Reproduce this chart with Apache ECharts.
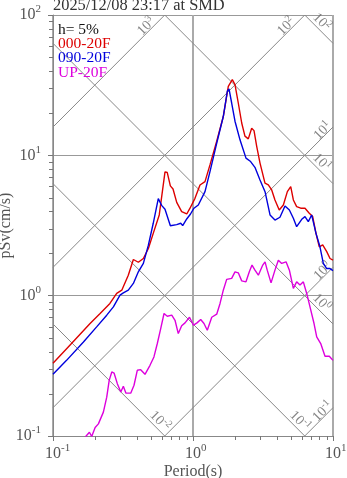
<!DOCTYPE html>
<html><head><meta charset="utf-8">
<script src="https://cdn.jsdelivr.net/npm/echarts@6/dist/echarts.min.js"></script>
<style>html,body{margin:0;padding:0;background:#fff}#c{width:347px;height:478px}</style>
</head><body><div id="c"></div>
<script>
// ---------- DATA ----------
const titleText = '2025/12/08 23:17 at SMD';
const dampingText = 'h= 5%';
const seriesNames = ['000-20F', '090-20F', 'UP-20F'];
const xAxisName = 'Period(s)';
const yAxisName = 'pSv(cm/s)';

const periods000 = [0.1,0.132,0.184,0.217,0.255,0.285,0.310,0.345,0.375,0.407,0.442,0.480,0.520,0.574,0.631,0.655,0.689,0.720,0.765,0.830,0.902,0.952,1.033,1.122,1.218,1.322,1.477,1.646,1.787,1.909,1.995,2.106,2.228,2.350,2.483,2.625,2.728,2.851,3.011,3.267,3.451,3.649,3.85,4.13,4.42,4.72,4.99,5.21,5.50,5.88,6.31,6.77,7.16,7.56,7.98,8.44,9.02,9.52,10];
const psv000 = [0.330,0.443,0.633,0.746,0.880,1.037,1.094,1.40,1.81,1.73,1.84,2.17,2.78,3.76,7.62,7.54,6.06,5.76,4.62,3.97,3.82,4.20,4.94,6.15,6.50,8.55,12.6,18.9,31.0,34.6,31.9,23.6,17.0,13.7,13.1,15.6,15.0,11.6,8.80,6.33,6.15,5.67,4.81,4.08,4.43,5.51,5.98,4.81,4.31,4.20,4.20,3.87,3.66,2.78,2.23,2.30,2.06,1.84,1.79];

const periods090 = [0.1,0.125,0.165,0.205,0.242,0.270,0.301,0.318,0.345,0.375,0.407,0.442,0.480,0.520,0.565,0.597,0.631,0.689,0.765,0.817,0.844,0.902,0.960,1.016,1.091,1.218,1.322,1.459,1.646,1.758,1.808,1.889,1.995,2.166,2.39,2.58,2.77,3.01,3.27,3.55,3.85,4.18,4.54,4.88,5.21,5.50,5.98,6.31,6.66,7.04,7.56,8.07,8.53,9.02,9.52,10];
const psv090 = [0.275,0.346,0.468,0.599,0.726,0.832,1.008,1.047,1.094,1.222,1.479,1.698,2.29,3.28,4.91,4.40,4.13,3.15,3.21,3.28,3.16,3.52,3.82,4.20,4.43,5.51,7.66,11.6,18.9,28.6,29.7,23.6,17.5,12.9,9.55,9.03,8.21,6.68,5.51,3.76,3.46,3.62,4.36,4.08,3.56,3.10,3.50,3.66,3.37,3.76,2.78,2.23,1.70,1.56,1.56,1.51];

const periodsUP = [0.170,0.182,0.189,0.200,0.211,0.229,0.242,0.252,0.263,0.273,0.288,0.305,0.318,0.332,0.359,0.379,0.400,0.423,0.454,0.493,0.526,0.556,0.588,0.621,0.655,0.705,0.744,0.785,0.830,0.877,0.944,1.008,1.068,1.135,1.198,1.265,1.361,1.477,1.560,1.646,1.740,1.889,1.995,2.106,2.228,2.39,2.525,2.64,2.77,2.93,3.15,3.27,3.39,3.61,3.85,4.07,4.30,4.62,4.88,5.21,5.50,5.81,6.14,6.49,6.85,7.32,7.65,8.17,8.77,9.41,10];
const psvUP = [0.0984,0.1064,0.0992,0.115,0.122,0.148,0.189,0.249,0.286,0.281,0.236,0.206,0.226,0.202,0.202,0.230,0.294,0.297,0.275,0.319,0.366,0.456,0.583,0.746,0.714,0.726,0.668,0.537,0.611,0.640,0.702,0.616,0.640,0.676,0.633,0.567,0.702,0.738,0.880,1.094,1.306,1.327,1.479,1.455,1.275,1.255,1.479,1.652,1.52,1.40,1.652,1.743,1.52,1.234,1.52,1.79,1.698,1.743,1.52,1.126,1.255,1.189,1.255,1.037,0.832,0.633,0.508,0.456,0.370,0.370,0.346];

const xRange = [0.1, 10];
const yRange = [0.1, 100];
const xMinorTicks = [0.2,0.3,0.4,0.5,0.6,0.7,0.8,0.9,2,3,4,5,6,7,8,9];
const yMinorTicks = [0.2,0.3,0.4,0.5,0.6,0.7,0.8,0.9,2,3,4,5,6,7,8,9,20,30,40,50,60,70,80,90];
// tripartite grid: constant displacement Sd (cm) and constant acceleration Sa (cm/s^2)
const sdLines = [0.01, 0.1, 1, 10, 100];
const saLines = [0.1, 1, 10, 100, 1000];

// ---------- STYLE ----------
const SERIF = '"Liberation Serif", "DejaVu Serif", serif';
const colors = ['#dd0000', '#0000dd', '#dd00dd'];
const TWO_PI = 2 * Math.PI;
const PXD = 140 * Math.SQRT2; // pixels per decade along a 45-degree diagonal

const expOf = v => Math.round(Math.log10(v));
const zip = (a, b) => a.map((v, i) => [v, b[i]]);

const Lmin = Math.log10(xRange[0]), Lmax = Math.log10(xRange[1]);
const Vmin = Math.log10(yRange[0]), Vmax = Math.log10(yRange[1]);

const diagSeries = [];
const sdLabelData = [];
const saLabelData = [];
sdLines.forEach(sd => {
  const c = Math.log10(TWO_PI * sd);           // log Sv = c - log T
  const x0 = Math.max(Lmin, c - Vmax);
  const rightEnd = (c - Vmin) >= Lmax;
  const x1 = rightEnd ? Lmax : c - Vmin;
  diagSeries.push([[10 ** x0, 10 ** (c - x0)], [10 ** x1, 10 ** (c - x1)]]);
  const a = (rightEnd ? 23 : 14) / PXD, n = 7 / PXD;
  const X = x1 - a + n, Y = (c - x1) + a + n;
  sdLabelData.push([10 ** X, 10 ** Y, expOf(sd)]);
});
saLines.forEach(sa => {
  const k = Math.log10(sa / TWO_PI);            // log Sv = log T + k
  const x0 = Math.max(Lmin, Vmin - k);
  const rightEnd = (Vmax - k) >= Lmax;
  const x1 = rightEnd ? Lmax : Vmax - k;
  diagSeries.push([[10 ** x0, 10 ** (x0 + k)], [10 ** x1, 10 ** (x1 + k)]]);
  const a = (rightEnd ? 10 : 21) / PXD, n = (rightEnd ? 4.5 : 5) / PXD;
  const X = x1 - a - n, Y = (x1 + k) - a + n;
  saLabelData.push([10 ** X, 10 ** Y, expOf(sa)]);
});

const diagRich = {
  b: {fontFamily: SERIF, fontSize: 14, lineHeight: 18, color: '#666'},
  s: {fontFamily: SERIF, fontSize: 10, lineHeight: 9, color: '#666', verticalAlign: 'top'}
};
const tickRich = {
  b: {fontFamily: SERIF, fontSize: 16, lineHeight: 22, color: '#555'},
  s: {fontFamily: SERIF, fontSize: 11, lineHeight: 10, color: '#555', verticalAlign: 'top'},
  p: {fontFamily: SERIF, fontSize: 11, lineHeight: 10, color: 'rgba(0,0,0,0)', verticalAlign: 'top'}
};

const chart = echarts.init(document.getElementById('c'), null, {renderer: 'canvas'});

const series = [];
diagSeries.forEach(d => series.push({
  type: 'line', data: d, showSymbol: false, silent: true, z: 1, animation: false,
  lineStyle: {color: '#888', width: 1}
}));
series.push({
  type: 'scatter', data: sdLabelData, symbolSize: 0, silent: true, z: 2, animation: false,
  label: {show: true, position: 'inside', rotate: -45, formatter: p => `{b|10}{s|${p.value[2]}}`, rich: diagRich}
});
series.push({
  type: 'scatter', data: saLabelData, symbolSize: 0, silent: true, z: 2, animation: false,
  label: {show: true, position: 'inside', rotate: 45, formatter: p => `{b|10}{s|${p.value[2]}}`, rich: diagRich}
});
[[periods000, psv000], [periods090, psv090], [periodsUP, psvUP]].forEach((pair, i) => series.push({
  name: seriesNames[i], type: 'line', data: zip(pair[0], pair[1]), showSymbol: false, z: 5 + i,
  animation: false, lineStyle: {color: colors[i], width: 1.4}, itemStyle: {color: colors[i]}
}));
// minor ticks drawn through the axes' own scales
series.push({
  type: 'custom', silent: true, animation: false, clip: false, z: 10,
  data: xMinorTicks.map(v => [v, yRange[0]]),
  renderItem: (params, api) => {
    const p = api.coord([api.value(0), api.value(1)]);
    const x = Math.round(p[0]) + 0.5;
    return {type: 'line', shape: {x1: x, y1: p[1], x2: x, y2: p[1] + 4}, style: {stroke: '#777', lineWidth: 1}};
  }
});
series.push({
  type: 'custom', silent: true, animation: false, clip: false, z: 10,
  data: yMinorTicks.map(v => [xRange[0], v]),
  renderItem: (params, api) => {
    const p = api.coord([api.value(0), api.value(1)]);
    const y = Math.round(p[1]) + 0.5;
    return {type: 'line', shape: {x1: p[0] - 4, y1: y, x2: p[0], y2: y}, style: {stroke: '#777', lineWidth: 1}};
  }
});

const legendY = [43.8, 58.3, 73.3];
chart.setOption({
  backgroundColor: '#fff',
  animation: false,
  grid: {left: 53, top: 15, width: 280, height: 421, containLabel: false, outerBoundsMode: 'none'},
  xAxis: {
    type: 'log', logBase: 10, min: xRange[0], max: xRange[1],
    name: xAxisName, nameLocation: 'middle', nameGap: 28, nameMoveOverlap: false,
    nameTextStyle: {fontFamily: SERIF, fontSize: 16, color: '#555'},
    axisLine: {show: true, lineStyle: {color: '#888', width: 1}},
    axisTick: {show: true, inside: false, length: 5, lineStyle: {color: '#777'}},
    axisLabel: {margin: 7, formatter: v => `{p|${expOf(v)}}{b|10}{s|${expOf(v)}}`, rich: tickRich},
    splitLine: {show: true, lineStyle: {color: '#aaa', width: 2}},
    minorTick: {show: false}
  },
  yAxis: {
    type: 'log', logBase: 10, min: yRange[0], max: yRange[1],
    name: yAxisName, nameLocation: 'middle', nameGap: 39, nameRotate: 90, nameMoveOverlap: false,
    nameTextStyle: {fontFamily: SERIF, fontSize: 16, color: '#555'},
    axisLine: {show: true, lineStyle: {color: '#888', width: 1}},
    axisTick: {show: true, inside: false, length: 5, lineStyle: {color: '#777'}},
    axisLabel: {margin: 12, formatter: v => `{b|10}{s|${expOf(v)}}`, rich: tickRich},
    splitLine: {show: true, lineStyle: {color: '#999', width: 1}},
    minorTick: {show: false}
  },
  series: series,
  graphic: [
    {type: 'text', left: 53, top: -2, z: 100, style: {text: titleText, font: `16.4px ${SERIF}`, fill: '#333'}},
    {type: 'text', x: 58, y: 29.8, z: 100, style: {text: dampingText, font: `15.5px ${SERIF}`, fill: '#111', verticalAlign: 'middle'}},
    ...seriesNames.map((nm, i) => ({type: 'text', x: 58, y: legendY[i], z: 100,
      style: {text: nm, font: `15.5px ${SERIF}`, fill: colors[i], verticalAlign: 'middle'}}))
  ]
});
</script>
</body></html>
